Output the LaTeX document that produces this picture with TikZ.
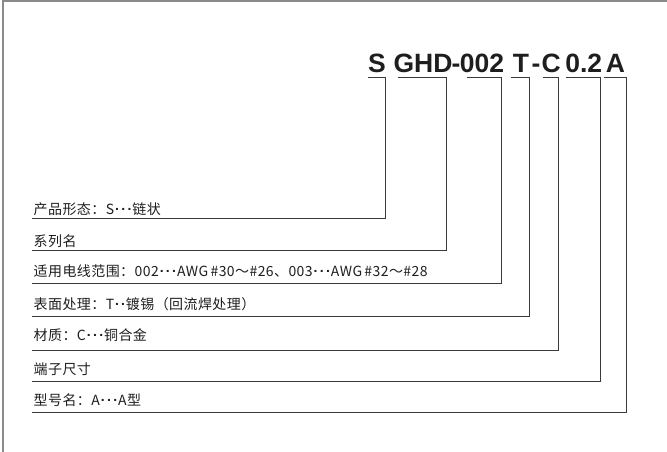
\documentclass[tikz,border=0pt]{standalone}
\usepackage{fontspec}
\newfontfamily\hfont{Liberation Sans}
\newfontfamily\cjk[LetterSpace=3]{Noto Sans CJK SC}
\newcommand\mydots{\raisebox{0.28em}{\hfont\bfseries\kern1pt.\kern2.3pt.\kern2.3pt.\kern1pt}}
\newcommand\mytwodots{\raisebox{0.28em}{\hfont\bfseries\kern1pt.\kern2pt.\kern1pt}}
\definecolor{linecol}{HTML}{3A3A3A}
\definecolor{framecol}{HTML}{8A8A8A}
\definecolor{txtcol}{HTML}{1E1E1E}
\begin{document}
\begin{tikzpicture}[x=1pt,y=-1pt,
  code/.style={anchor=base,inner sep=0pt,text=txtcol,font=\hfont\bfseries\fontsize{26.5}{30}\selectfont},
  lab/.style={anchor=base west,inner sep=0pt,text=txtcol,font=\cjk\fontsize{14}{17}\selectfont},
  lead/.style={draw=linecol,line width=0.9pt},
  frame/.style={draw=framecol,line width=1.3pt}]
\useasboundingbox (0,0) rectangle (667,452);
\draw[frame] (3,452) -- (3,1) -- (667,1);
% code tokens
\node[code] (cS)   at (377,72.3)   {S};
\node[code] (cGHD) at (423,72.3)   {GHD};
\node[code] (cd1)  at (456,72.3)   {-};
\node[code] (c002) at (482,72.3)   {002};
\node[code] (cT)   at (521,72.3)   {T};
\node[code] (cd2)  at (536,72.3)   {-};
\node[code] (cC)   at (551.3,72.3) {C};
\node[code] (c02)  at (583.7,72.3) {0.2};
\node[code] (cA)   at (615.5,72.3) {A};
% labels
\node[lab] (l1) at (33.5,214)   {产品形态：S\mydots 链状};
\node[lab] (l2) at (33.5,246.3) {系列名};
\node[lab] (l3) at (33.5,276.3) {适用电线范围：002\mydots AWG\,\#30～\#26、003\mydots AWG\,\#32～\#28};
\node[lab] (l4) at (33.5,309.7) {表面处理：T\mytwodots 镀锡（回流焊处理）};
\node[lab] (l5) at (33.5,340.7) {材质：C\mydots 铜合金};
\node[lab] (l6) at (33.5,374)   {端子尺寸};
\node[lab] (l7) at (33.5,405)   {型号名：A\mydots A型};
% bracket start points under the code tokens
\coordinate (sS)   at (368,77.7);
\coordinate (sGHD) at (397.7,77.7);
\coordinate (s002) at (467,77.7);
\coordinate (sT)   at (510.7,77.7);
\coordinate (sC)   at (542.7,77.7);
\coordinate (s02)  at (566,77.7);
\coordinate (sA)   at (604.3,77.7);
% bracket ends under the labels
\coordinate (e1) at (32.3,218.3);
\coordinate (e2) at (32.3,250.7);
\coordinate (e3) at (32.3,283.3);
\coordinate (e4) at (32.3,316);
\coordinate (e5) at (32.3,350.7);
\coordinate (e6) at (32.3,381.7);
\coordinate (e7) at (32.3,412.3);
\draw[lead] (sS)   -- (385.5,77.7) |- (e1);
\draw[lead] (sGHD) -- (446,77.7)   |- (e2);
\draw[lead] (s002) -- (501.5,77.7) |- (e3);
\draw[lead] (sT)   -- (529.7,77.7) |- (e4);
\draw[lead] (sC)   -- (558.7,77.7) |- (e5);
\draw[lead] (s02)  -- (600,77.7)   |- (e6);
\draw[lead] (sA)   -- (626.7,77.7) |- (e7);
\end{tikzpicture}
\end{document}
